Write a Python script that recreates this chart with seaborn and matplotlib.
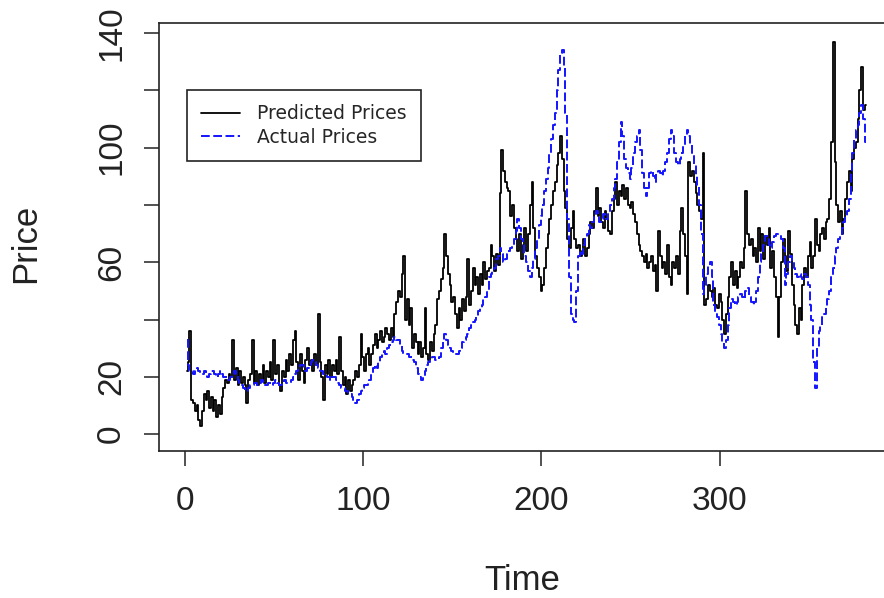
import matplotlib
matplotlib.use("Agg")
import matplotlib.pyplot as plt
import seaborn as sns
import pandas as pd
import numpy as np

# ---- data ----
predicted = [
    22, 25, 36, 12, 11, 8, 10, 5, 3, 8,
    14, 12, 15, 9, 13, 8, 12, 6, 10, 7,
    13, 16, 19, 18, 21, 20, 33, 19, 23, 17,
    22, 18, 20, 17, 11, 19, 21, 33, 18, 22,
    17, 21, 19, 24, 18, 22, 20, 25, 19, 33,
    21, 24, 17, 15, 22, 20, 26, 22, 28, 24,
    33, 36, 25, 19, 28, 22, 18, 26, 30, 24,
    26, 22, 28, 24, 42, 25, 20, 12, 24, 21,
    26, 20, 24, 22, 26, 21, 34, 22, 17, 20,
    14, 19, 15, 17, 19, 22, 20, 24, 35, 27,
    22, 28, 30, 24, 28, 31, 35, 30, 33, 36,
    32, 34, 37, 35, 33, 37, 34, 42, 46, 50,
    48, 56, 62, 40, 47, 38, 44, 30, 35, 32,
    28, 32, 27, 30, 44, 28, 26, 32, 29, 35,
    38, 47, 50, 54, 58, 70, 62, 56, 52, 46,
    48, 42, 37, 44, 40, 47, 43, 48, 61, 45,
    50, 58, 52, 55, 49, 56, 52, 60, 54, 57,
    58, 66, 62, 57, 63, 59, 84, 99, 92, 88,
    86, 85, 76, 80, 72, 68, 64, 70, 61, 66,
    72, 64, 70, 80, 88, 72, 62, 58, 55, 50,
    52, 58, 65, 70, 75, 80, 85, 88, 94, 98,
    104, 96, 85, 79, 68, 65, 72, 78, 68, 65,
    66, 62, 64, 68, 62, 65, 70, 74, 72, 78,
    86, 76, 79, 74, 72, 78, 75, 71, 70, 78,
    82, 88, 80, 85, 83, 87, 82, 86, 80, 79,
    81, 77, 74, 70, 66, 64, 62, 60, 63, 58,
    60, 62, 57, 59, 50, 71, 62, 58, 60, 56,
    66, 55, 52, 60, 58, 62, 56, 71, 79, 70,
    62, 49, 95, 90, 92, 88, 84, 80, 78, 75,
    98, 45, 47, 52, 50, 48, 51, 45, 44, 49,
    46, 40, 35, 42, 48, 55, 60, 52, 57, 51,
    55, 60, 58, 65, 85, 70, 66, 68, 62, 65,
    60, 72, 64, 70, 61, 69, 66, 72, 58, 64,
    55, 48, 34, 48, 60, 68, 62, 57, 71, 63,
    52, 45, 38, 35, 44, 40, 52, 58, 55, 62,
    67, 58, 62, 75, 66, 64, 70, 72, 68, 74,
    75, 82, 102, 137, 95, 80, 74, 78, 70, 75,
    82, 88, 92, 85, 96, 100, 102, 110, 120, 128,
    113, 115,
]

actual = [
    33, 24, 22, 22, 21, 22, 23, 22, 21, 21,
    22, 21, 20, 21, 22, 22, 21, 20, 21, 22,
    21, 20, 20, 19, 19, 20, 21, 22, 21, 19,
    18, 17, 16, 15, 15, 16, 17, 17, 18, 18,
    17, 18, 19, 18, 17, 17, 18, 18, 17, 18,
    19, 18, 17, 17, 18, 19, 18, 18, 18, 19,
    20, 21, 22, 23, 24, 24, 23, 22, 23, 24,
    25, 26, 25, 24, 23, 22, 22, 21, 21, 20,
    20, 19, 20, 20, 19, 18, 17, 16, 16, 15,
    15, 14, 14, 13, 12, 11, 12, 14, 15, 16,
    17, 17, 18, 19, 21, 23, 24, 23, 25, 27,
    28, 29, 28, 30, 31, 32, 33, 34, 33, 33,
    31, 29, 28, 28, 28, 27, 27, 26, 25, 23,
    21, 20, 19, 20, 22, 24, 25, 26, 27, 27,
    26, 26, 27, 30, 33, 35, 33, 31, 30, 29,
    28, 28, 28, 29, 30, 32, 33, 34, 35, 37,
    38, 39, 40, 41, 43, 44, 45, 47, 48, 50,
    55, 56, 57, 58, 61, 62, 65, 63, 60, 61,
    63, 64, 65, 66, 68, 71, 75, 72, 68, 66,
    62, 60, 57, 55, 58, 61, 65, 68, 73, 76,
    80, 85, 89, 93, 98, 103, 108, 112, 120, 127,
    133, 134, 128, 112, 75, 55, 42, 40, 39, 50,
    62, 64, 63, 66, 68, 70, 73, 72, 74, 76,
    78, 76, 74, 75, 77, 76, 75, 77, 80, 82,
    86, 89, 95, 102, 109, 104, 96, 93, 91, 89,
    93, 98, 102, 104, 106, 99, 91, 86, 83, 86,
    91, 92, 90, 88, 91, 92, 91, 90, 92, 95,
    98, 103, 106, 104, 98, 95, 94, 96, 98, 101,
    104, 106, 104, 101, 98, 94, 90, 87, 80, 70,
    49, 52, 56, 59, 60, 55, 45, 42, 41, 38,
    35, 32, 30, 33, 38, 44, 47, 46, 45, 46,
    48, 49, 48, 47, 50, 51, 48, 46, 45, 46,
    50, 55, 60, 63, 66, 69, 68, 66, 65, 67,
    69, 70, 70, 69, 68, 65, 52, 56, 60, 62,
    60, 58, 56, 55, 56, 55, 54, 56, 55, 52,
    45, 40, 25, 16, 30, 36, 38, 41, 42, 44,
    47, 50, 55, 58, 62, 65, 68, 70, 72, 74,
    76, 78, 82, 91, 98, 103, 106, 108, 112, 115,
    110, 102,
]

series_labels = ["Predicted Prices", "Actual Prices"]
x_ticks = [0, 100, 200, 300]
y_ticks = [0, 20, 40, 60, 80, 100, 120, 140]
y_tick_labels = ["0", "20", "", "60", "", "100", "", "140"]
x_label = "Time"
y_label = "Price"

time = list(range(1, len(actual) + 1))
df = pd.DataFrame({"Time": time, "Predicted": predicted, "Actual": actual})

# ---- style ----
sns.set_style("ticks")
plt.rcParams["font.family"] = ["Liberation Sans", "DejaVu Sans"]

W, H = 884, 598
fig = plt.figure(figsize=(W / 100, H / 100), dpi=100)
left_px, right_px, top_px, bottom_px = 159, 893, 23, 451
ax = fig.add_axes([left_px / W, 1 - bottom_px / H,
                   (right_px - left_px) / W, (bottom_px - top_px) / H])

sns.lineplot(data=df, x="Time", y="Predicted", ax=ax, color="black",
             linewidth=1.3, label=series_labels[0], errorbar=None,
             drawstyle="steps-mid")
sns.lineplot(data=df, x="Time", y="Actual", ax=ax, color="#1414ff",
             linewidth=1.4, linestyle=(0, (4.5, 1.8)), label=series_labels[1],
             errorbar=None, drawstyle="steps-mid")

ax.set_xlim(-14.6, 397.3)
ax.set_ylim(-5.9, 143.5)

ax.set_xticks(x_ticks)
ax.set_xticklabels([str(v) for v in x_ticks])
ax.set_yticks(y_ticks)
ax.set_yticklabels(y_tick_labels)

for s in ax.spines.values():
    s.set_visible(True)
    s.set_color("#222222")
    s.set_linewidth(1.2)

ax.tick_params(axis="both", direction="out", length=11, width=1.1,
               colors="#222222", labelcolor="#222222", labelsize=24)
ax.tick_params(axis="x", pad=14)
ax.tick_params(axis="y", pad=12, labelrotation=90)
for lab in ax.get_yticklabels():
    lab.set_va("center")
    lab.set_ha("right")

ax.set_xlabel(x_label, fontsize=25, color="#222222")
ax.set_ylabel(y_label, fontsize=25, color="#222222")
ax.xaxis.set_label_coords((522 - left_px) / (right_px - left_px),
                          (bottom_px - 580) / (bottom_px - top_px))
ax.xaxis.label.set_va("center")
ax.yaxis.set_label_coords((26 - left_px) / (right_px - left_px),
                          (bottom_px - 243) / (bottom_px - top_px))
ax.yaxis.label.set_va("center")

leg = ax.legend(loc="upper left",
                bbox_to_anchor=((187 - left_px) / (right_px - left_px),
                                (bottom_px - 90) / (bottom_px - top_px)),
                borderaxespad=0, frameon=True, fancybox=False,
                prop={"family": "DejaVu Sans", "size": 13.5},
                handlelength=2.1, handletextpad=0.9, labelspacing=0.25,
                borderpad=0.75)
leg.get_frame().set_edgecolor("#222222")
leg.get_frame().set_linewidth(1.2)
leg.get_frame().set_facecolor("white")
leg.get_frame().set_alpha(1)

fig.savefig("out.png", dpi=100)
